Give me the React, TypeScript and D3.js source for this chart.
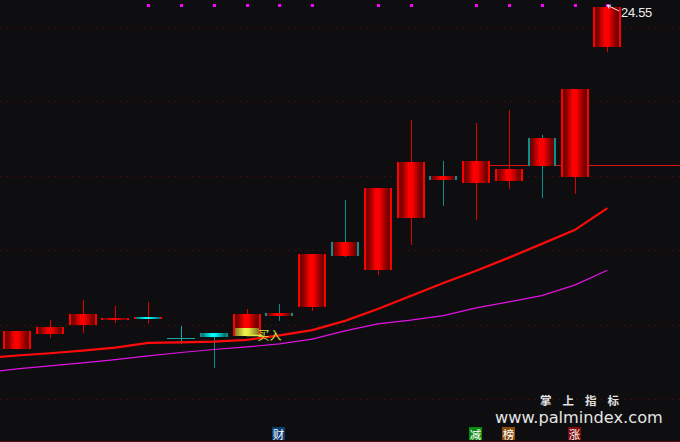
import React, { useEffect } from 'react';
import * as d3 from 'd3';

// candle data (price units)
const opens = [15.34, 15.75, 15.99, 16.13, 16.14, 15.64, 15.77, 15.69, 16.31, 16.47, 18.22, 17.47, 18.87, 19.99, 19.81, 19.86, 21.02, 19.97, 23.46];
const highs = [15.83, 16.12, 16.66, 16.5, 16.61, 15.96, 15.77, 16.42, 16.55, 17.9, 19.35, 19.67, 21.5, 20.4, 21.42, 21.77, 21.1, 22.33, 24.55];
const lows = [15.34, 15.64, 15.77, 16.04, 16.02, 15.48, 14.83, 15.69, 16.1, 16.37, 17.82, 17.33, 18.14, 19.19, 18.81, 19.65, 19.4, 19.51, 23.33];
const closes = [15.83, 15.94, 16.29, 16.19, 16.2, 15.64, 15.67, 16.29, 16.23, 17.9, 17.84, 19.67, 20.37, 19.89, 20.4, 20.18, 20.26, 22.33, 24.55];
// indicator paint over each candle: r = red bar, c = cyan bar, n = none
const paint = ['r', 'r', 'r', 'r', 'c', 'n', 'c', 'r', 'r', 'r', 'r', 'r', 'r', 'r', 'r', 'r', 'r', 'r', 'r'];

// moving averages, first value is the candle just off the left edge
const maFast = [15.1, 15.17, 15.23, 15.3, 15.38, 15.51, 15.52, 15.54, 15.59, 15.71, 15.85, 16.1, 16.42, 16.77, 17.12, 17.45, 17.8, 18.17, 18.54, 19.13];
const maSlow = [14.71, 14.81, 14.89, 14.97, 15.06, 15.16, 15.25, 15.33, 15.4, 15.48, 15.61, 15.83, 16.02, 16.12, 16.24, 16.45, 16.61, 16.78, 17.06, 17.46];

const gridPrices = [24, 22, 20, 18, 16, 14];
const topDots = [4, 5, 6, 7, 8, 9, 11, 12, 14, 15, 16, 17, 18];
const buyIndex = 7;
const buySplit = 15.9;
const levelPrice = 20.29;
const levelFrom = 14;
const maxLabel = '24.55';
const icons = [
  { i: 8, ch: '财', bg: '#0c3d72' },
  { i: 14, ch: '减', bg: '#0a8a0a' },
  { i: 15, ch: '榜', bg: '#8a4e0c' },
  { i: 17, ch: '涨', bg: '#7a0909' },
];

const W = 680;
const H = 442;
const RED = '#ff0000';
const TEAL = '#0b8f8f';

export default function App() {
  useEffect(() => {
    document.body.style.margin = '0';
    document.body.style.background = '#0e0e11';
  }, []);

  const x = d3.scaleLinear().domain([0, 18]).range([17, 607.4]);
  const y = d3.scaleLinear().domain([14, 24]).range([399, 27]);
  const half = 14;

  const line = d3.line<number>()
    .x((_, i) => x(i - 1))
    .y(d => y(d));

  return (
    <svg width={W} height={H} style={{ display: 'block', background: '#0e0e11' }}>
      <defs>
        <linearGradient id="gr" x1="0" x2="1" y1="0" y2="0">
          <stop offset="0%" stopColor="#560000" />
          <stop offset="20%" stopColor="#8e0000" />
          <stop offset="42%" stopColor="#ff0000" />
          <stop offset="56%" stopColor="#f80000" />
          <stop offset="80%" stopColor="#8a0000" />
          <stop offset="100%" stopColor="#520000" />
        </linearGradient>
        <linearGradient id="gc" x1="0" x2="1" y1="0" y2="0">
          <stop offset="0%" stopColor="#005656" />
          <stop offset="42%" stopColor="#00ffff" />
          <stop offset="56%" stopColor="#00f0f0" />
          <stop offset="100%" stopColor="#004e4e" />
        </linearGradient>
        <linearGradient id="gy" x1="0" x2="1" y1="0" y2="0">
          <stop offset="0%" stopColor="#66661a" />
          <stop offset="42%" stopColor="#f2f24a" />
          <stop offset="56%" stopColor="#e6e640" />
          <stop offset="100%" stopColor="#5e5e18" />
        </linearGradient>
      </defs>

      {gridPrices.map(p => (
        <line key={p} x1={0} x2={W} y1={Math.round(y(p)) + 0.5} y2={Math.round(y(p)) + 0.5}
          stroke="#3c0b0b" strokeDasharray="2,4" />
      ))}
      <line x1={0} x2={W} y1={441.5} y2={441.5} stroke="#5a1010" />

      <line x1={x(levelFrom) + half} x2={W} y1={Math.round(y(levelPrice)) + 0.5} y2={Math.round(y(levelPrice)) + 0.5}
        stroke="#e01010" strokeWidth={1} />

      {opens.map((o, i) => {
        const c = closes[i];
        const up = c >= o;
        const col = up ? RED : TEAL;
        const cx = Math.round(x(i));
        const top = Math.round(y(Math.max(o, c)));
        let bot = Math.round(y(Math.min(o, c)));
        if (paint[i] === 'n') {
          return (
            <g key={i}>
              <line x1={cx + 0.5} x2={cx + 0.5} y1={y(highs[i])} y2={y(lows[i])} stroke="#14a8a8" />
              <line x1={cx - half} x2={cx + half} y1={top + 0.5} y2={top + 0.5} stroke="#14a8a8" />
            </g>
          );
        }
        if (bot - top < 2) bot = top + 2;
        const fill = paint[i] === 'c' ? 'url(#gc)' : 'url(#gr)';
        const split = i === buyIndex ? Math.round(y(buySplit)) : null;
        return (
          <g key={i}>
            <line x1={cx + 0.5} x2={cx + 0.5} y1={y(highs[i])} y2={y(lows[i])}
              stroke={up ? '#e00000' : TEAL} />
            <rect x={cx - half} y={top} width={half * 2} height={bot - top} fill={fill} />
            {split !== null && (
              <rect x={cx - half} y={split} width={half * 2} height={bot - split} fill="url(#gy)" />
            )}
            <rect x={cx - half} y={top} width={2} height={bot - top} fill={col} />
            <rect x={cx + half - 2} y={top} width={2} height={bot - top} fill={col} />
          </g>
        );
      })}

      <path d={line(maSlow) || ''} fill="none" stroke="#e312e3" strokeWidth={1.2} />
      <path d={line(maFast) || ''} fill="none" stroke="#ff0a0a" strokeWidth={2.2} />

      {topDots.map(i => (
        <rect key={i} x={Math.round(x(i)) - 1} y={4} width={3} height={3} fill="#ff00ff" />
      ))}

      {/* buy marker */}
      <line x1={x(buyIndex)} x2={x(buyIndex) + 16} y1={335.5} y2={335.5} stroke="#e6e63c" strokeWidth={1.5} />
      <text x={x(buyIndex) + 11} y={340} fill="#cfe03c" fontSize={12}
        fontFamily="'Noto Sans CJK SC', sans-serif">买入</text>

      {/* max price label */}
      <path d={`M619,11 L613,8 L607.5,5.5 M607.5,5.5 L611,5 M607.5,5.5 L609,8.5`}
        fill="none" stroke="#f0f0f0" strokeWidth={1} />
      <text x={621} y={16.5} fill="#ececec" fontSize={13} letterSpacing={-0.3}
        fontFamily="'Liberation Sans', Arial, sans-serif">{maxLabel}</text>

      {/* watermark */}
      <text x={540} y={405} fill="#e2e2e2" fontSize={11.5} fontWeight="bold" letterSpacing={11}
        fontFamily="'Noto Sans CJK SC', sans-serif">掌上指标</text>
      <text x={495} y={422.5} fill="#e4e4e4" fontSize={16.2}
        fontFamily="'DejaVu Sans', sans-serif">www.palmindex.com</text>

      {icons.map(ic => {
        const cx = Math.round(x(ic.i)) - 1;
        return (
          <g key={ic.i}>
            <rect x={cx - 6} y={427} width={13} height={13} fill={ic.bg} />
            <text x={cx + 0.5} y={438.5} textAnchor="middle" fill="#ffffff" fontSize={11.5}
              fontFamily="'Noto Sans CJK SC', sans-serif">{ic.ch}</text>
          </g>
        );
      })}
    </svg>
  );
}
